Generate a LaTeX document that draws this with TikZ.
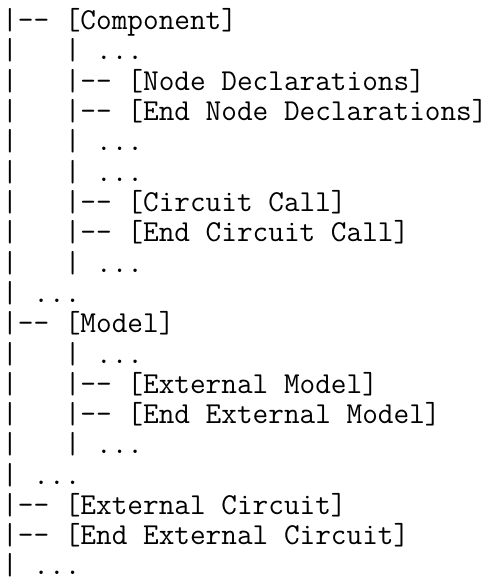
\documentclass[tikz,border=0pt]{standalone}
\usepackage{fontspec}
\begin{document}
\begin{tikzpicture}[x=1pt,y=-1pt,
    every node/.style={anchor=base west,inner sep=0pt,font=\ttfamily\fontsize{30.4}{30}\selectfont}]
            \useasboundingbox (0,0) rectangle (495,577);
            \node (comp) at (2,29.7) {|-{}- [Component]};
            \node (dotsa) at (2,60.0) {|~~~|~...};
            \node (nodedecl) at (2,90.3) {|~~~|-{}- [Node Declarations]};
            \node (endnodedecl) at (2,120.6) {|~~~|-{}- [End Node Declarations]};
            \node (dotsb) at (2,150.9) {|~~~|~...};
            \node (dotsc) at (2,181.2) {|~~~|~...};
            \node (call) at (2,211.5) {|~~~|-{}- [Circuit Call]};
            \node (endcall) at (2,241.8) {|~~~|-{}- [End Circuit Call]};
            \node (dotsd) at (2,272.1) {|~~~|~...};
            \node (dotse) at (2,302.4) {|~...};
            \node (model) at (2,332.7) {|-{}- [Model]};
            \node (dotsf) at (2,363.0) {|~~~|~...};
            \node (extmodel) at (2,393.3) {|~~~|-{}- [External Model]};
            \node (endextmodel) at (2,423.6) {|~~~|-{}- [End External Model]};
            \node (dotsg) at (2,453.9) {|~~~|~...};
            \node (dotsh) at (2,484.2) {|~...};
            \node (extcirc) at (2,514.5) {|-{}- [External Circuit]};
            \node (endextcirc) at (2,544.8) {|-{}- [End External Circuit]};
            \node (dotsi) at (2,574.0) {|~...};
\end{tikzpicture}
\end{document}
